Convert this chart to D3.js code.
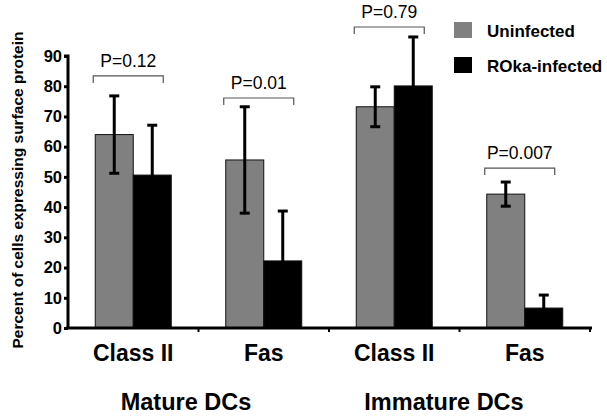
<!DOCTYPE html>
<html>
<head>
<meta charset="utf-8">
<script src="https://cdn.jsdelivr.net/npm/d3@7"></script>
<style>
  body { margin: 0; background: #fff; }
  text { font-family: "Liberation Sans", Arial, sans-serif; }
</style>
</head>
<body>
<svg id="chart" width="607" height="420"></svg>
<script>
// data
var categories = ["Class II", "Fas", "Class II", "Fas"];
var groups = ["Mature DCs", "Immature DCs"];
var series = ["Uninfected", "ROka-infected"];
var uninfected = [64, 55.6, 73.2, 44.3];
var uninfectedErr = [12.8, 17.6, 6.6, 4];
var infected = [50.6, 22.2, 80.1, 6.6];
var infectedErr = [16.5, 16.5, 16.2, 4.3];
var pLabels = ["P=0.12", "P=0.01", "P=0.79", "P=0.007"];
var pLevels = [83.4, 76.1, 99.6, 52.9];
var yTicks = [0, 10, 20, 30, 40, 50, 60, 70, 80, 90];

var colors = ["#808080", "#000000"];
var svg = d3.select("#chart");

var x = d3.scaleBand().domain(d3.range(4)).range([68, 590]);
var y = d3.scaleLinear().domain([0, 90]).range([328, 56]);
var bw = 38;

// bars
var values = [uninfected, infected];
var errs = [uninfectedErr, infectedErr];
series.forEach(function(s, si) {
  svg.append("g").selectAll("rect")
    .data(values[si])
    .join("rect")
    .attr("x", (d, i) => x(i) + x.bandwidth() / 2 - bw + si * bw)
    .attr("y", d => y(d))
    .attr("width", bw)
    .attr("height", d => y(0) - y(d))
    .attr("fill", colors[si])
    .attr("stroke", "#111")
    .attr("stroke-width", 1);
});

// error bars
series.forEach(function(s, si) {
  values[si].forEach(function(v, i) {
    var cx = x(i) + x.bandwidth() / 2 - bw / 2 + si * bw;
    var g = svg.append("g").attr("stroke", "#000").attr("stroke-width", 3);
    g.append("line").attr("x1", cx).attr("x2", cx)
      .attr("y1", y(v - errs[si][i])).attr("y2", y(v + errs[si][i]));
    g.append("line").attr("x1", cx - 5).attr("x2", cx + 5)
      .attr("y1", y(v + errs[si][i])).attr("y2", y(v + errs[si][i]));
    if (si == 0) {
      g.append("line").attr("x1", cx - 5).attr("x2", cx + 5)
        .attr("y1", y(v - errs[si][i])).attr("y2", y(v - errs[si][i]));
    }
  });
});

// p-value brackets
pLabels.forEach(function(p, i) {
  var cx = x(i) + x.bandwidth() / 2 - 5;
  var by = y(pLevels[i]);
  svg.append("path")
    .attr("d", "M" + (cx - 35) + "," + (by + 7) + "V" + by + "H" + (cx + 35) + "V" + (by + 7))
    .attr("fill", "none").attr("stroke", "#555").attr("stroke-width", 1.2);
  svg.append("text").attr("x", cx).attr("y", by - 9)
    .attr("text-anchor", "middle").attr("font-size", 17.5).text(p);
});

// axes
var yAxis = svg.append("g").attr("transform", "translate(68,0)")
  .call(d3.axisLeft(y).tickValues(yTicks).tickSize(4).tickPadding(2));
yAxis.select(".domain").attr("stroke-width", 3).attr("d", "M-4," + y(90) + "H0V" + y(0));
yAxis.selectAll(".tick line").attr("stroke-width", 3);
yAxis.selectAll(".tick text").attr("font-size", 16.5).attr("font-weight", "bold")
  .attr("font-family", "Liberation Sans, Arial, sans-serif").attr("fill", "#000");

var xAxis = svg.append("g").attr("transform", "translate(0," + y(0) + ")");
xAxis.append("line").attr("x1", 66).attr("x2", 592).attr("stroke", "#000").attr("stroke-width", 3);
[1, 2, 3, 4].forEach(function(k) {
  var tx = k < 4 ? x(k) : x(3) + x.bandwidth();
  xAxis.append("line").attr("x1", tx).attr("x2", tx).attr("y1", 0).attr("y2", 4)
    .attr("stroke", "#000").attr("stroke-width", 2);
});

svg.append("g").selectAll("text")
  .data(categories)
  .join("text")
  .attr("x", (d, i) => x(i) + x.bandwidth() / 2)
  .attr("y", 361)
  .attr("text-anchor", "middle")
  .attr("font-size", 23).attr("font-weight", "bold")
  .text(d => d);

svg.append("g").selectAll("text")
  .data(groups)
  .join("text")
  .attr("x", (d, i) => i == 0 ? 186 : 444)
  .attr("y", 410)
  .attr("text-anchor", "middle")
  .attr("font-size", 23.5).attr("font-weight", "bold")
  .text(d => d);

svg.append("text")
  .attr("transform", "translate(23,190) rotate(-90)")
  .attr("text-anchor", "middle")
  .attr("font-size", 15.5).attr("font-weight", "bold")
  .text("Percent of cells expressing surface protein");

// legend
series.forEach(function(s, si) {
  var ly = 22 + si * 35;
  svg.append("rect").attr("x", 454).attr("y", ly).attr("width", 18).attr("height", 16)
    .attr("fill", colors[si]);
  svg.append("text").attr("x", 487).attr("y", ly + 15)
    .attr("font-size", 17).attr("font-weight", "bold").text(s);
});
</script>
</body>
</html>
